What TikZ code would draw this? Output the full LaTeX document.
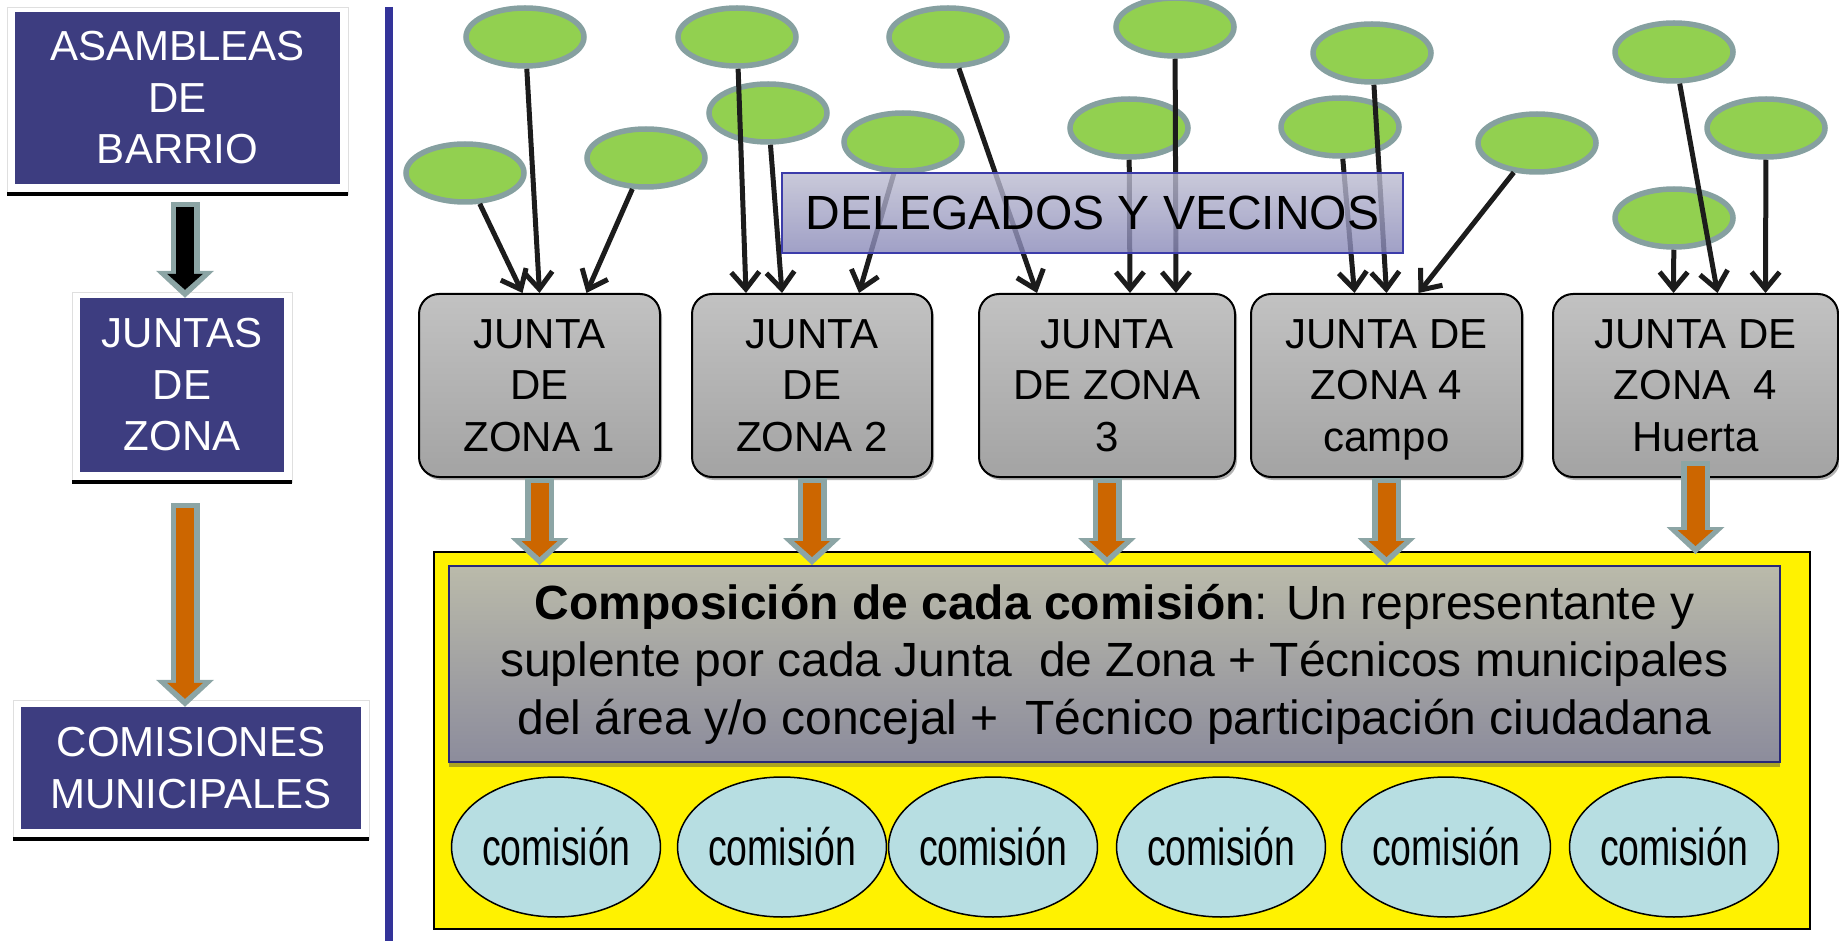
\documentclass[tikz,border=0pt]{standalone}
\usepackage{fontspec}
\setmainfont{Liberation Sans}
\newfontfamily\narrowfont{Liberation Sans}[FakeStretch=0.72]
\usetikzlibrary{shapes.geometric,arrows.meta,shadows}

\definecolor{boxblue}{RGB}{61,61,128}
\definecolor{ruleblue}{RGB}{51,51,153}
\definecolor{leafgreen}{RGB}{146,208,80}
\definecolor{leafrim}{RGB}{134,160,160}
\definecolor{arrowrim}{RGB}{140,165,165}
\definecolor{arroworange}{RGB}{204,102,0}
\definecolor{lineblack}{RGB}{28,28,28}
\definecolor{comblue}{RGB}{183,222,226}
\definecolor{delegtop}{RGB}{188,188,208}
\definecolor{delegbot}{RGB}{136,136,184}
\definecolor{delegrim}{RGB}{60,60,170}
\definecolor{comptop}{RGB}{186,186,170}
\definecolor{compbot}{RGB}{140,140,156}
\definecolor{comprim}{RGB}{40,40,120}

\newcommand{\bigsize}{\fontsize{42pt}{51.5pt}\selectfont}
\newcommand{\fatarrow}[3]{%
  \draw[fatouter] #2 -- #3;
  \draw[fatinner, draw=#1] #2 -- #3;}

\tikzset{
  level/.style={fill=boxblue, text=white, font=\bigsize, align=center, inner sep=0pt},
  zone/.style={draw=black, line width=2pt, rounded corners=20pt, top color=gray!48, bottom color=gray!72,
    align=center, inner sep=0pt, minimum height=183pt, font=\bigsize,
    drop shadow={shadow xshift=2pt, shadow yshift=-3pt, fill=black!60}},
  leaf/.style={ellipse, draw=leafrim, line width=5.5pt, fill=leafgreen, minimum width=118pt, minimum height=58pt, inner sep=0pt},
  vote/.style={draw=lineblack, line width=5pt, -{Straight Barb[length=17pt,width=28pt]}},
  comm/.style={ellipse, draw=black, line width=1.5pt, fill=comblue, minimum width=181pt, minimum height=140pt,
    inner sep=0pt, font=\narrowfont\fontsize{52pt}{60pt}\selectfont},
  fatouter/.style={draw=arrowrim, line width=29pt, -{Triangle[length=27pt,width=58pt,line width=0pt]}},
  fatinner/.style={line width=18pt, -{Triangle[length=16pt,width=36pt,line width=0pt]}, shorten >=8pt, shorten <=5pt}
}

\begin{document}
\begin{tikzpicture}[x=1pt, y=-1pt]
\useasboundingbox (0,0) rectangle (1839,941);

% left column
\draw[gray!25] (7,7) rectangle (348,194);
\draw[gray!25] (72,292) rectangle (292,482);
\draw[gray!25] (13,700) rectangle (369,839);
\node[level, minimum width=325pt, minimum height=172pt] (asam) at (177.5,98) {ASAMBLEAS\\DE\\BARRIO};
\node[level, minimum width=204pt, minimum height=174pt] (juntas) at (182,385) {JUNTAS\\DE\\ZONA};
\node[level, minimum width=340pt, minimum height=122pt] (comis) at (191,768) {COMISIONES\\MUNICIPALES};
\draw[line width=4pt] (7,194) -- (348,194);
\draw[line width=4pt] (72,482) -- (292,482);
\draw[line width=4pt] (13,839) -- (369,839);
\fatarrow{black}{([xshift=7.5pt,yshift=-18pt]asam.south)}{([xshift=3pt]juntas.north)}
\fatarrow{arroworange}{([xshift=3pt,yshift=-31pt]juntas.south)}{([xshift=3pt]juntas.south |- comis.north)}

% separator
\draw[ruleblue, line width=8pt] (389,7) -- (389,941);

% juntas de zona
\node[zone, minimum width=241pt] (z1) at (539.5,385.5) {JUNTA\\DE\\ZONA 1};
\node[zone, minimum width=240pt] (z2) at (812,385.5) {JUNTA\\DE\\ZONA 2};
\node[zone, minimum width=256pt] (z3) at (1107,385.5) {JUNTA\\DE ZONA\\3};
\node[zone, minimum width=271pt] (z4) at (1386.5,385.5) {JUNTA DE\\ZONA 4\\\smash{campo}};
\node[zone, minimum width=285pt] (z5) at (1695.5,385.5) {JUNTA DE\\ZONA\ \ 4\\Huerta};

% delegados y vecinos
\node[leaf] (a1) at (525,37) {};
\node[leaf] (a2) at (465,173) {};
\node[leaf] (a3) at (646,158) {};
\node[leaf] (b1) at (737,37) {};
\node[leaf] (b2) at (768,113) {};
\node[leaf] (b3) at (903,142) {};
\node[leaf] (c1) at (948,37) {};
\node[leaf] (c2) at (1175,27) {};
\node[leaf] (c3) at (1129,128) {};
\node[leaf] (d1) at (1372,53) {};
\node[leaf] (d2) at (1340,127) {};
\node[leaf] (d3) at (1537,143) {};
\node[leaf] (f1) at (1674,52) {};
\node[leaf] (f2) at (1766,128) {};
\node[leaf] (f3) at (1674,218) {};

\draw[vote] (a2) -- ([xshift=-17pt]z1.north);
\draw[vote] (a1) -- (z1.north);
\draw[vote] (a3) -- ([xshift=47pt]z1.north);
\draw[vote] (b1) -- ([xshift=-66pt]z2.north);
\draw[vote] (b2) -- ([xshift=-30pt]z2.north);
\draw[vote] (b3) -- ([xshift=47pt]z2.north);
\draw[vote] (c1) -- ([xshift=-70pt]z3.north);
\draw[vote] (c3) -- ([xshift=23pt]z3.north);
\draw[vote] (c2) -- ([xshift=69pt]z3.north);
\draw[vote] (d2) -- ([xshift=-32pt]z4.north);
\draw[vote] (d1) -- (z4.north);
\draw[vote] (d3) -- ([xshift=32pt]z4.north);
\draw[vote] (f3) -- ([xshift=-22pt]z5.north);
\draw[vote] (f1) -- ([xshift=22pt]z5.north);
\draw[vote] (f2) -- ([xshift=70pt]z5.north);

\node[draw=delegrim, line width=1.5pt, top color=delegtop, bottom color=delegbot, fill opacity=0.8, text opacity=1,
  minimum width=621pt, minimum height=80pt, inner sep=0pt, font=\fontsize{48pt}{48pt}\selectfont]
  (deleg) at (1092.5,213) {DELEGADOS Y VECINOS};

% comisiones
\node[draw=black, line width=2.5pt, fill=yellow, minimum width=1376pt, minimum height=377pt, inner sep=0pt] (area) at (1122,740.5) {};
\node[draw=comprim, line width=2pt, top color=comptop, bottom color=compbot, minimum width=1331pt, minimum height=196pt,
  inner sep=0pt, align=center, font=\fontsize{48pt}{57.5pt}\selectfont,
  drop shadow={shadow xshift=0pt, shadow yshift=-5pt, fill=black!75!yellow}]
  (comp) at (1114.5,664) {\textbf{Composición de cada comisión}: Un representante y\\suplente por cada Junta\ \ de Zona + Técnicos municipales\\del área y/o concejal +\ \ Técnico participación ciudadana};
\node[comm] (k1) at (556,847) {comisión};
\node[comm] (k2) at (782,847) {comisión};
\node[comm] (k3) at (993,847) {comisión};
\node[comm] (k4) at (1221,847) {comisión};
\node[comm] (k5) at (1446,847) {comisión};
\node[comm] (k6) at (1674,847) {comisión};

\fatarrow{arroworange}{(z1.south)}{(z1.south |- comp.north)}
\fatarrow{arroworange}{(z2.south)}{(z2.south |- comp.north)}
\fatarrow{arroworange}{(z3.south)}{(z3.south |- comp.north)}
\fatarrow{arroworange}{(z4.south)}{(z4.south |- comp.north)}
\fatarrow{arroworange}{([yshift=17pt]z5.south)}{([yshift=11pt]z5.south |- comp.north)}
\end{tikzpicture}
\end{document}
